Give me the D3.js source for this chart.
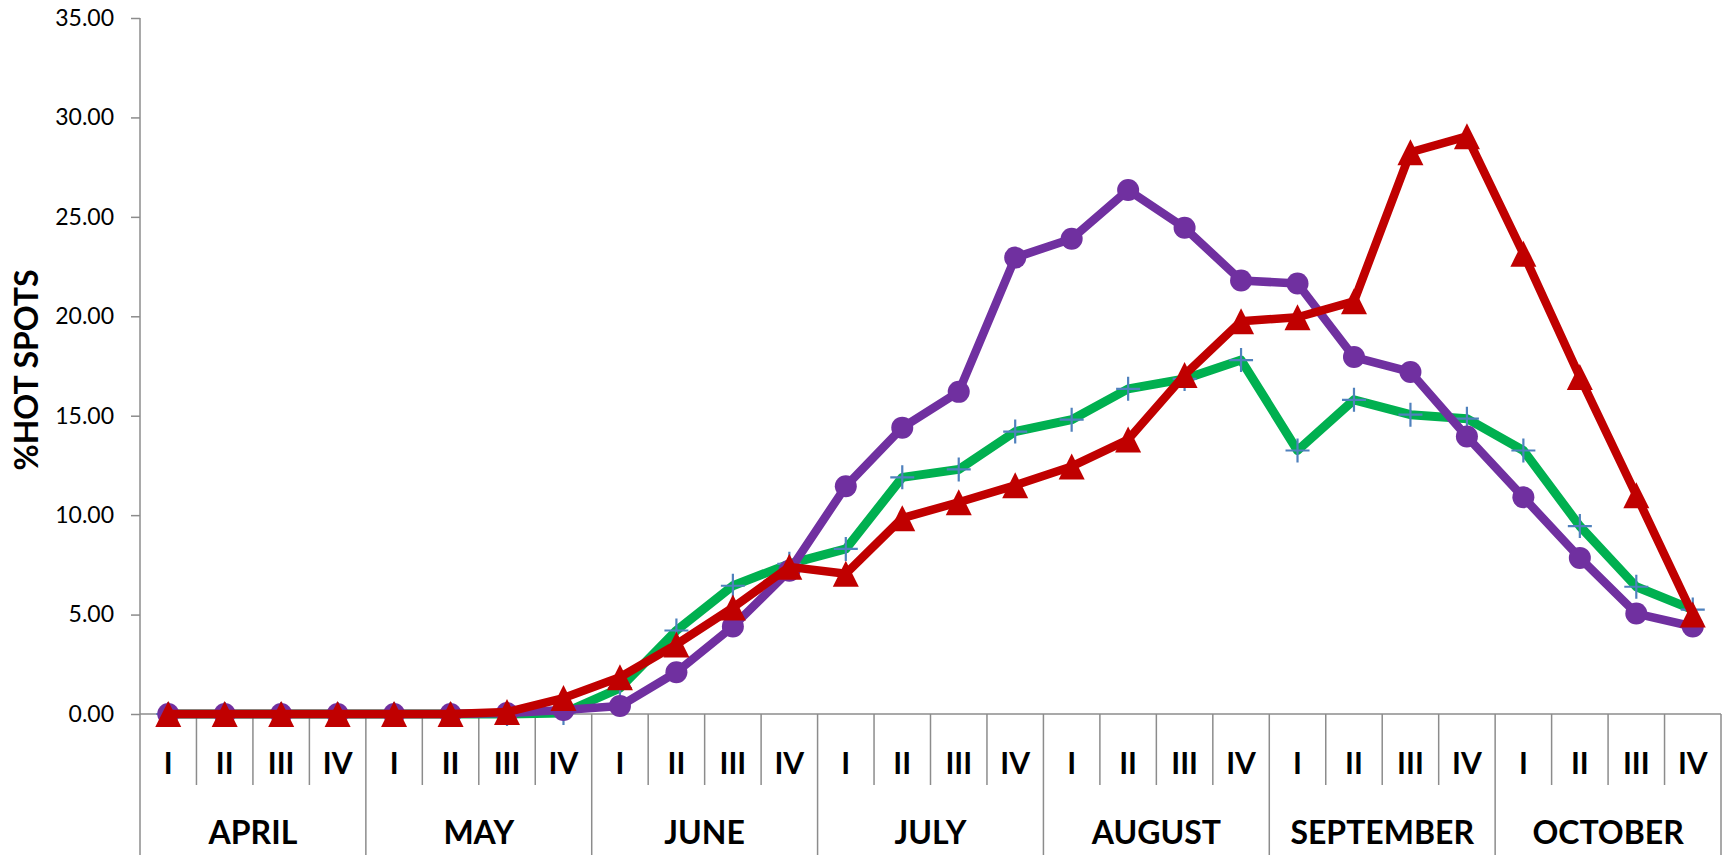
<!DOCTYPE html>
<html>
<head>
<meta charset="utf-8">
<script src="https://cdn.jsdelivr.net/npm/d3@7"></script>
<style>
  html, body { margin: 0; padding: 0; background: #fff; }
  svg { display: block; }
  text { font-family: Lato, "Open Sans", sans-serif; fill: #000; }
</style>
</head>
<body>
<svg id="chart" width="1730" height="855"></svg>
<script>
// ---- data ----
const months = ["APRIL", "MAY", "JUNE", "JULY", "AUGUST", "SEPTEMBER", "OCTOBER"];
const quarters = ["I", "II", "III", "IV"];
const yTicks = [0, 5, 10, 15, 20, 25, 30, 35];
const yTitle = "%HOT SPOTS";

const seriesPurple = [0, 0, 0, 0, 0, 0, 0.05, 0.2, 0.4, 2.1, 4.4, 7.2, 11.45, 14.4, 16.2, 22.95, 23.9, 26.35, 24.45, 21.8, 21.65, 17.95, 17.2, 13.95, 10.9, 7.85, 5.05, 4.4];
const seriesGreen  = [0, 0, 0, 0, 0, 0, 0, 0.05, 1.3, 4.2, 6.45, 7.55, 8.3, 11.9, 12.3, 14.2, 14.8, 16.35, 16.85, 17.8, 13.25, 15.8, 15.05, 14.85, 13.25, 9.45, 6.4, 5.25];
const seriesRed    = [0, 0, 0, 0, 0, 0, 0.1, 0.8, 1.85, 3.5, 5.35, 7.4, 7.05, 9.85, 10.65, 11.5, 12.45, 13.8, 17.05, 19.75, 19.95, 20.75, 28.25, 29.05, 23.15, 16.95, 11.0, 5.0];

// categories built from months x quarters
const categories = [];
months.forEach(m => quarters.forEach(q => categories.push(m + "-" + q)));

// ---- layout ----
const svg = d3.select("#chart");
const plotLeft = 140, plotRight = 1721, plotTop = 18, plotBottom = 714;
const axisColor = "#8c8c8c";

const x = d3.scaleBand().domain(categories).range([plotLeft, plotRight]).padding(0);
const y = d3.scaleLinear().domain([0, 35]).range([plotBottom, plotTop]);

// ---- y axis ----
const yAxis = d3.axisLeft(y).tickValues(yTicks).tickSize(9).tickPadding(17).tickFormat(d3.format(".2f"));
const gy = svg.append("g").attr("transform", `translate(${plotLeft},0)`).call(yAxis);
gy.select(".domain").remove();
gy.selectAll(".tick line").attr("stroke", axisColor).attr("stroke-width", 1.5);
gy.selectAll(".tick text").style("font-size", "23px").style("font-family", "Lato, sans-serif").attr("fill", "#000");

// y axis line running to the bottom
svg.append("line").attr("x1", plotLeft).attr("x2", plotLeft).attr("y1", plotTop).attr("y2", 855)
  .attr("stroke", axisColor).attr("stroke-width", 1.5);

// x axis baseline
svg.append("line").attr("x1", plotLeft).attr("x2", plotRight).attr("y1", y(0)).attr("y2", y(0))
  .attr("stroke", axisColor).attr("stroke-width", 1.5);

// quarter separators
categories.forEach((c, i) => {
  if (i === 0) return;
  const xx = x(c);
  const isMonth = i % 4 === 0;
  svg.append("line").attr("x1", xx).attr("x2", xx).attr("y1", y(0)).attr("y2", isMonth ? 855 : 785)
    .attr("stroke", axisColor).attr("stroke-width", 1.5);
});
// right edge
svg.append("line").attr("x1", plotRight).attr("x2", plotRight).attr("y1", y(0)).attr("y2", 855)
  .attr("stroke", axisColor).attr("stroke-width", 1.5);

// quarter labels
svg.append("g").selectAll("text").data(categories).join("text")
  .attr("x", d => x(d) + x.bandwidth() / 2)
  .attr("y", 762)
  .attr("text-anchor", "middle").attr("dominant-baseline", "central")
  .style("font-size", "30px").style("font-weight", "bold")
  .text(d => d.split("-")[1]);

// month labels
svg.append("g").selectAll("text").data(months).join("text")
  .attr("x", m => (x(m + "-I") + x(m + "-IV") + x.bandwidth()) / 2)
  .attr("y", 831)
  .attr("text-anchor", "middle").attr("dominant-baseline", "central")
  .style("font-size", "32px").style("font-weight", "bold")
  .text(m => m);

// y title
svg.append("text")
  .attr("transform", `translate(25,370) rotate(-90)`)
  .attr("text-anchor", "middle").attr("dominant-baseline", "central")
  .style("font-size", "32px").style("font-weight", "bold")
  .text(yTitle);

// ---- series ----
const line = d3.line().x((d, i) => x(categories[i]) + x.bandwidth() / 2).y(d => y(d));
const cx = i => x(categories[i]) + x.bandwidth() / 2;

// green
svg.append("path").datum(seriesGreen).attr("d", line)
  .attr("fill", "none").attr("stroke", "#00B050").attr("stroke-width", 9).attr("stroke-linejoin", "round");
svg.append("g").selectAll("path").data(seriesGreen).join("path")
  .attr("d", (d, i) => { const px = cx(i), py = y(d), s = 12; return `M${px - s},${py}H${px + s}M${px},${py - s}V${py + s}`; })
  .attr("stroke", "#4F81BD").attr("stroke-width", 2.2).attr("fill", "none");

// purple
svg.append("path").datum(seriesPurple).attr("d", line)
  .attr("fill", "none").attr("stroke", "#7030A0").attr("stroke-width", 8.5).attr("stroke-linejoin", "round");
svg.append("g").selectAll("circle").data(seriesPurple).join("circle")
  .attr("cx", (d, i) => cx(i)).attr("cy", d => y(d)).attr("r", 11).attr("fill", "#7030A0");

// red
svg.append("path").datum(seriesRed).attr("d", line)
  .attr("fill", "none").attr("stroke", "#C00000").attr("stroke-width", 8.5).attr("stroke-linejoin", "round");
svg.append("g").selectAll("path").data(seriesRed).join("path")
  .attr("d", (d, i) => { const px = cx(i), py = y(d), w = 13, h = 13; return `M${px},${py - h}L${px + w},${py + h}L${px - w},${py + h}Z`; })
  .attr("fill", "#C00000");
</script>
</body>
</html>
